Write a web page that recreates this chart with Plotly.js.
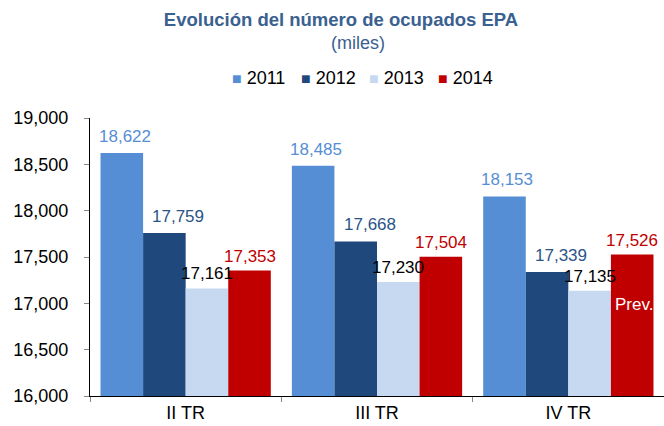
<!DOCTYPE html>
<html>
<head>
<meta charset="utf-8">
<script src="https://cdn.plot.ly/plotly-3.0.1.min.js"></script>
<style>html,body{margin:0;padding:0;background:#fff;}#chart{width:664px;height:426px;}</style>
</head>
<body>
<div id="chart"></div>
<script>
const categories = ["II TR", "III TR", "IV TR"];
const years = ["2011", "2012", "2013", "2014"];
const values2011 = [18622, 18485, 18153];
const values2012 = [17759, 17668, 17339];
const values2013 = [17161, 17230, 17135];
const values2014 = [17353, 17504, 17526];
const insideNote = ["", "", "Prev."];

const series = [values2011, values2012, values2013, values2014];
const barColors = ["#558ED5", "#1F497D", "#C6D9F1", "#C00000"];
const labelColors = ["#558ED5", "#2B5486", "#000000", "#C00000"];
const labelXShift = [3, 14, 0, 0];
const labelYShift = [5, 5, 3, 3];
const font = "Liberation Sans, Arial, sans-serif";
const bargap = 0.11;

const traces = series.map((vals, i) => ({
  type: "bar",
  name: years[i],
  x: categories,
  y: vals,
  marker: {color: barColors[i], line: {width: 0}},
  hoverinfo: "none",
  showlegend: false
}));

const plotL = 90, plotR = 664, plotT = 118, plotB = 396;
const px2x = p => (p - plotL) / (plotR - plotL);
const py2y = p => 1 + (plotT - p) / (plotB - plotT);
const annotations = [];
const bw = (1 - bargap) / series.length;
series.forEach((vals, i) => {
  vals.forEach((v, j) => {
    annotations.push({
      x: j + (i - (series.length - 1) / 2) * bw,
      y: v, xref: "x", yref: "y",
      text: v.toLocaleString("en-US"),
      showarrow: false, yanchor: "bottom", yshift: labelYShift[i], xshift: labelXShift[i],
      font: {family: font, size: 17, color: labelColors[i]}
    });
  });
});
insideNote.forEach((t, j) => {
  if (!t) return;
  annotations.push({
    x: j + 1.5 * bw, y: values2014[j], xref: "x", yref: "y",
    text: t, showarrow: false, yanchor: "top", yshift: -38, xshift: 2,
    font: {family: font, size: 17, color: "#ffffff"}
  });
});
annotations.push({
  text: "(miles)", xref: "paper", yref: "paper",
  x: px2x(358), y: py2y(43),
  xanchor: "center", yanchor: "middle",
  showarrow: false, font: {family: font, size: 18, color: "#3A6190"}
});
// legend entries
years.forEach((yr, i) => {
  annotations.push({
    text: '<span style="color:' + barColors[i] + ';font-size:16px">■</span> ' + yr,
    xref: "paper", yref: "paper",
    x: px2x(230 + i * 68.5), y: py2y(78),
    xanchor: "left", yanchor: "middle", showarrow: false,
    font: {family: font, size: 18, color: "#000000"}
  });
});

const layout = {
  width: 664, height: 426,
  margin: {l: plotL, r: 664 - plotR, t: plotT, b: 426 - plotB},
  paper_bgcolor: "#ffffff", plot_bgcolor: "#ffffff",
  font: {family: font, color: "#000000"},
  title: {
    text: "<b>Evolución del número de ocupados EPA</b>",
    xref: "container", yref: "container",
    x: 341 / 664, y: 1 - 20 / 426, xanchor: "center", yanchor: "middle",
    font: {family: font, size: 18.5, color: "#3A6190"}
  },
  barmode: "group", bargap: bargap, bargroupgap: 0,
  showlegend: false,
  xaxis: {
    type: "category", showline: true, linecolor: "#000000", linewidth: 1,
    ticks: "outside", tickson: "boundaries", ticklen: 5, tickcolor: "#888888",
    showgrid: false, zeroline: false,
    tickfont: {family: font, size: 18, color: "#000000"}
  },
  yaxis: {
    range: [16000, 19000], dtick: 500, tick0: 16000, tickformat: ",d",
    showline: true, linecolor: "#000000", linewidth: 1,
    ticks: "outside", ticklen: 5, tickcolor: "#888888",
    showgrid: false, zeroline: false, ticklabelstandoff: 12,
    tickfont: {family: font, size: 18, color: "#000000"}
  },
  annotations: annotations
};

Plotly.newPlot("chart", traces, layout, {displayModeBar: false, staticPlot: true});
</script>
</body>
</html>
